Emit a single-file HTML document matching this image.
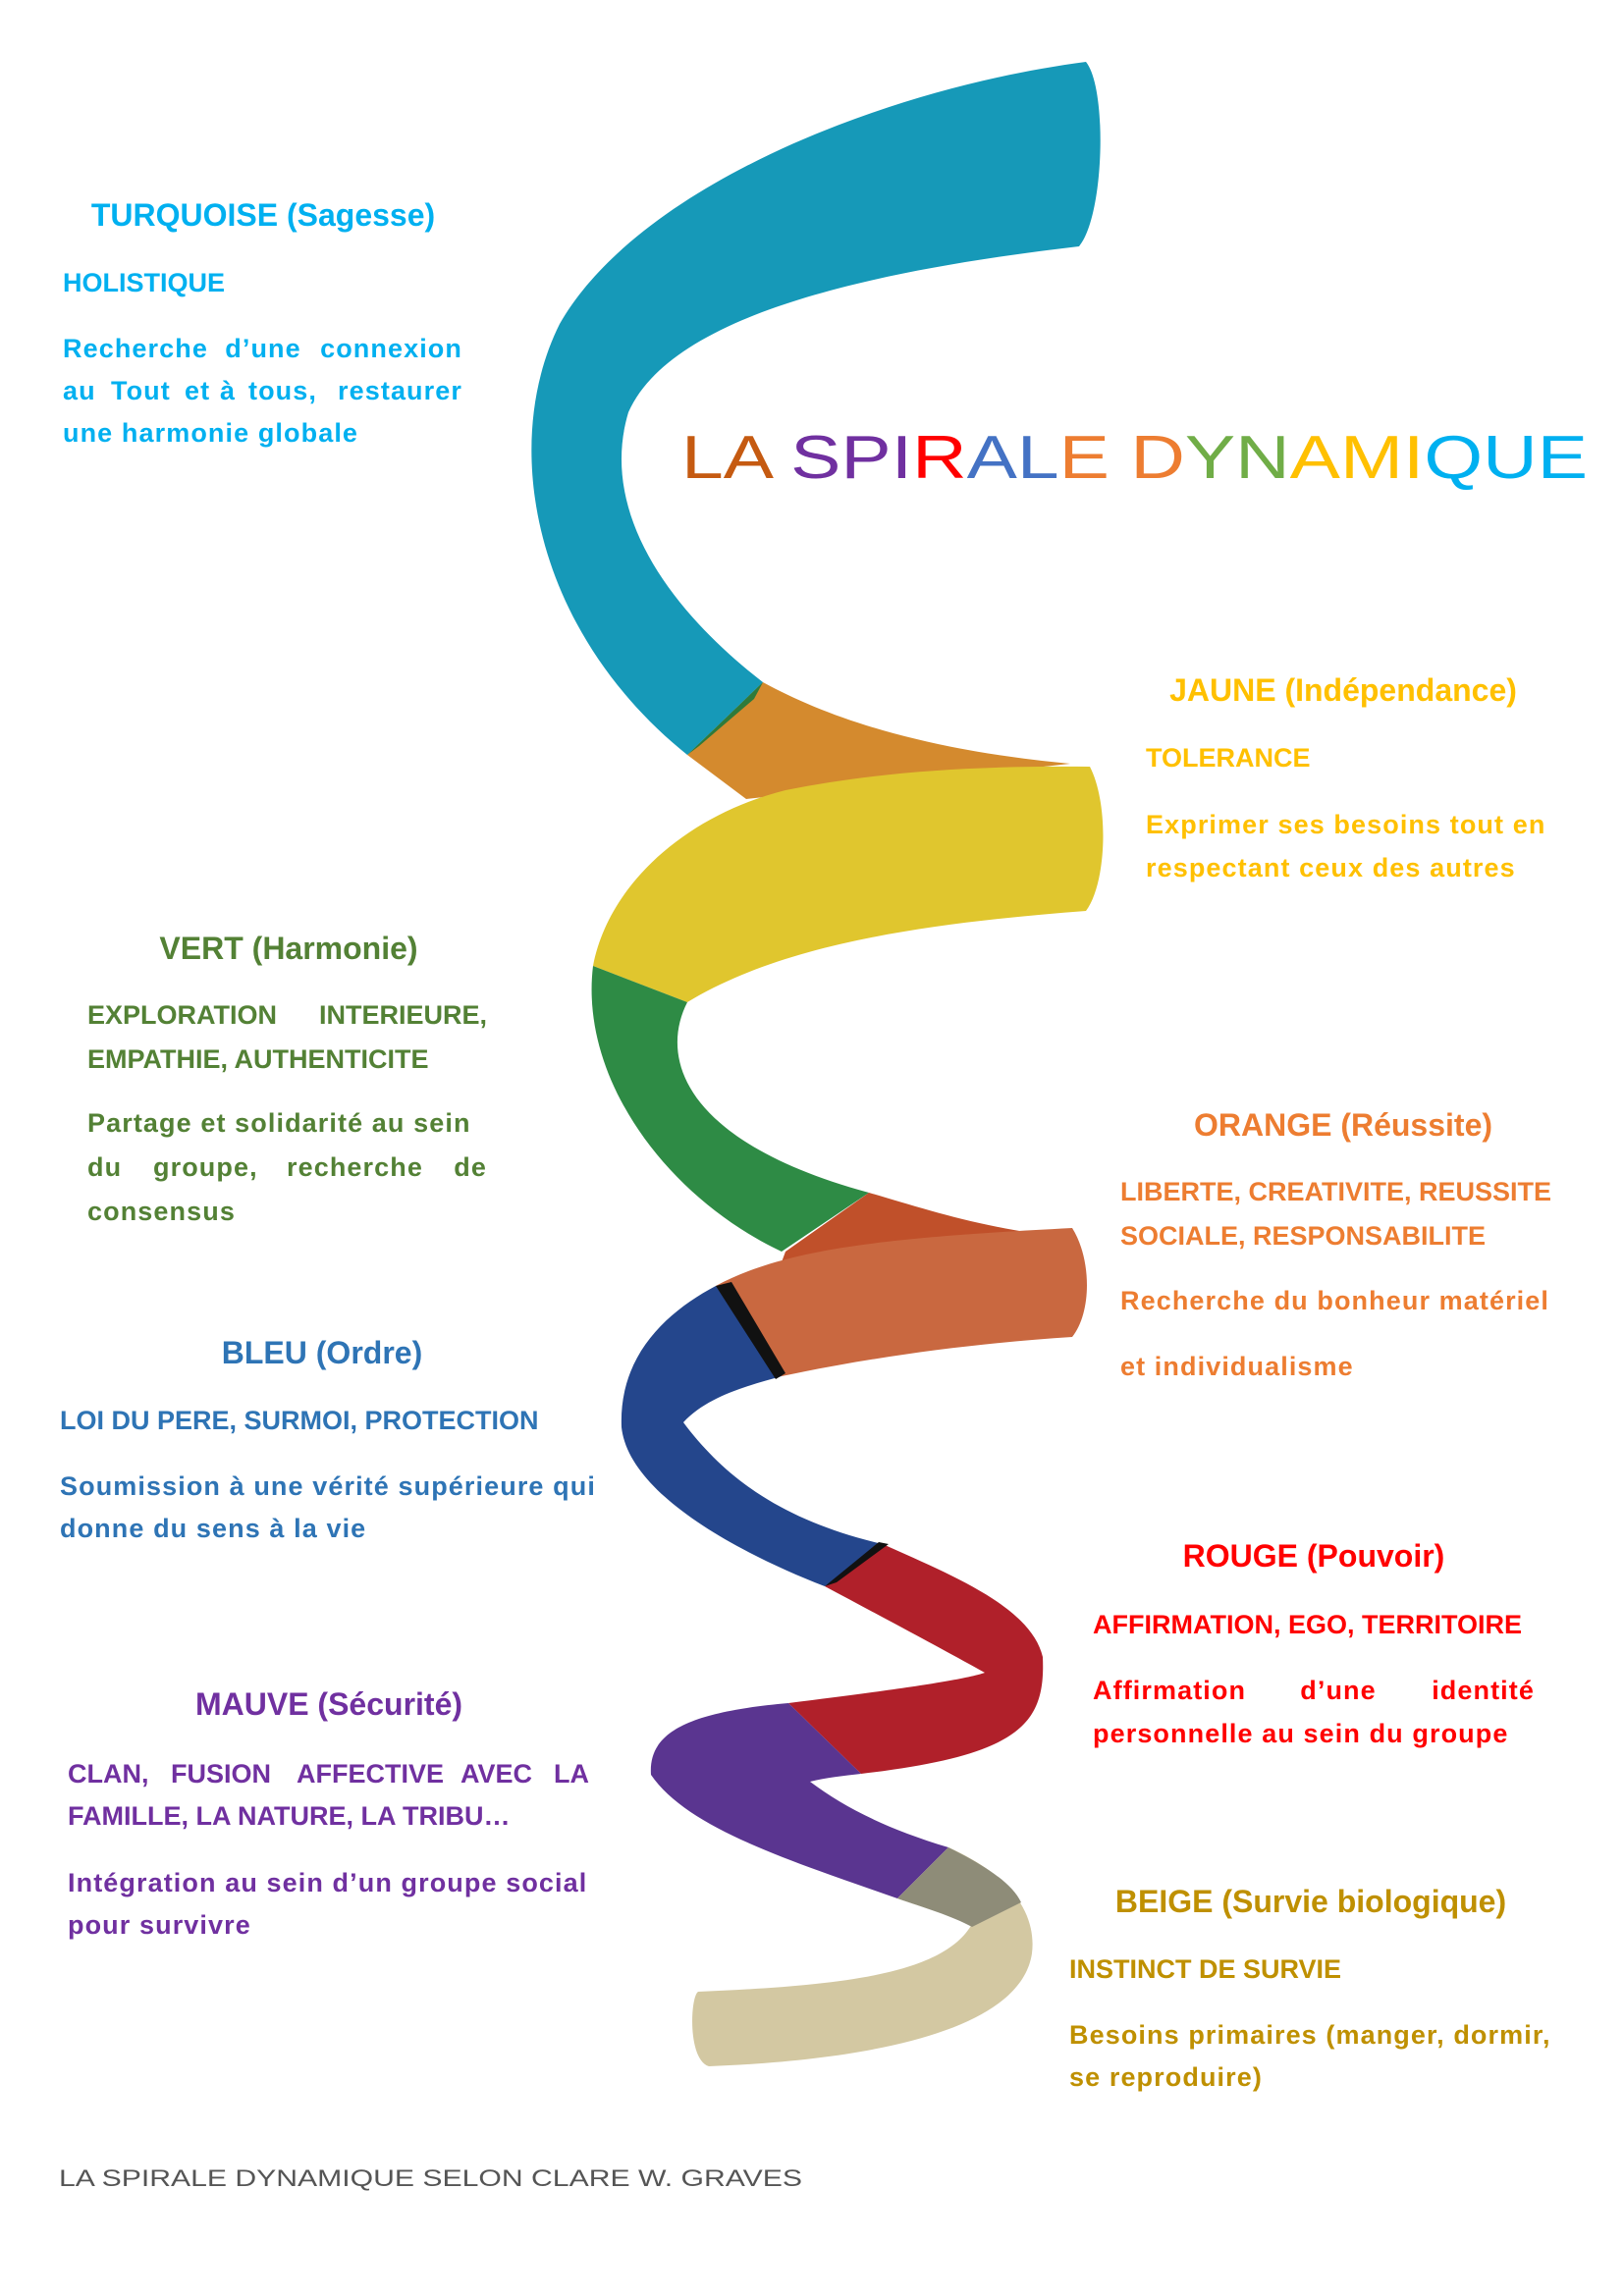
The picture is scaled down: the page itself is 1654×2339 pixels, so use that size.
<!DOCTYPE html>
<html><head><meta charset="utf-8"><style>
html,body{margin:0;padding:0;background:#fff}
svg{display:block}
text{font-family:"Liberation Sans",sans-serif;font-weight:bold}
.b text{font-size:27px;letter-spacing:1.1px}
.b text.u{letter-spacing:0}
.b text.t{font-size:32px;letter-spacing:0}
</style></head><body>
<svg width="1654" height="2339" viewBox="0 0 1654 2339" xmlns="http://www.w3.org/2000/svg">
<rect width="1654" height="2339" fill="#fff"/>
<!-- spiral -->
<path d="M700,769 L777,695 C850,735 950,765 1090,778 L760,814 Z" fill="#d48a2e"/>
<path d="M1106,63 C900,90 650,190 570,330 C510,450 540,640 700,769 L777,695 C680,620 610,520 640,420 C680,330 850,280 1099,251 C1125,220 1128,90 1106,63 Z" fill="#1699b8"/>
<path d="M700,769 L777,695 L768,712 L712,760 Z" fill="#2f7a3a"/>
<path d="M604,984 C620,900 700,830 800,805 C900,785 1000,780 1110,781 C1130,820 1127,900 1106,928 C950,940 800,960 700,1021 Z" fill="#e0c62e"/>
<path d="M604,984 L700,1021 C670,1080 700,1165 885,1215 L796,1275 C680,1220 590,1100 604,984 Z" fill="#2e8b45"/>
<path d="M800,1275 L885,1215 C930,1228 980,1245 1050,1256 L790,1302 Z" fill="#c0502a"/>
<path d="M729,1310 C800,1272 900,1261 1092,1251 C1112,1283 1112,1337 1092,1362 C1000,1368 900,1380 796,1402 Z" fill="#c96840"/>
<path d="M729,1310 L796,1402 C760,1412 720,1423 696,1449 C740,1508 800,1550 899,1573 L840,1616 C740,1577 640,1518 633,1454 C630,1380 680,1336 729,1310 Z" fill="#24468c"/>
<path d="M729,1310 L745,1306 L800,1399 L790,1405 Z" fill="#111"/>
<path d="M840,1616 L899,1573 C970,1605 1050,1637 1062,1688 C1065,1756 1040,1788 877,1807 L803,1735 C900,1723 980,1712 1003,1704 C960,1680 900,1648 840,1616 Z" fill="#b0202a"/>
<path d="M840,1616 L852,1612 L905,1573 L895,1571 Z" fill="#111"/>
<path d="M803,1735 L877,1807 C860,1809 840,1811 825,1815 C860,1841 900,1862 966,1882 L914,1934 C800,1894 700,1862 663,1808 C660,1765 700,1744 803,1735 Z" fill="#5a3590"/>
<path d="M966,1882 C1040,1915 1055,1958 1051,1990 C1040,2065 900,2098 722,2105 C700,2098 703,2034 711,2029 C850,2023 960,2013 990,1960 C970,1952 940,1943 914,1934 Z" fill="#d3c8a2"/>
<path d="M914,1934 L966,1882 C1000,1899 1030,1917 1040,1938 L990,1963 C970,1952 940,1943 914,1934 Z" fill="#8e8c78"/>
<!-- title -->
<text x="694" y="487" font-size="62" textLength="923" lengthAdjust="spacingAndGlyphs" style="font-weight:normal"><tspan fill="#c55a11">LA </tspan><tspan fill="#7030a0">SPI</tspan><tspan fill="#ff0000">R</tspan><tspan fill="#4472c4">AL</tspan><tspan fill="#ed7d31">E D</tspan><tspan fill="#70ad47">YN</tspan><tspan fill="#ffc000">AMI</tspan><tspan fill="#00b0f0">QUE</tspan></text>
<g class="b" fill="#00b0f0">
<text class="t" x="268" y="230" text-anchor="middle">TURQUOISE (Sagesse)</text>
<text class="u" x="64" y="297">HOLISTIQUE</text>
<text x="64" y="364">Recherche</text><text x="268" y="364" text-anchor="middle">d’une</text><text x="471" y="364" text-anchor="end">connexion</text>
<text x="64" y="407">au</text><text x="113" y="407">Tout</text><text x="188" y="407">et</text><text x="224" y="407">à</text><text x="253" y="407">tous,</text><text x="471" y="407" text-anchor="end">restaurer</text>
<text x="64" y="450">une harmonie globale</text>
</g>
<g class="b" fill="#ffc000">
<text class="t" x="1368" y="714" text-anchor="middle">JAUNE (Indépendance)</text>
<text class="u" x="1167" y="781">TOLERANCE</text>
<text x="1167" y="849">Exprimer ses besoins tout en</text>
<text x="1167" y="893">respectant ceux des autres</text>
</g>
<g class="b" fill="#538135">
<text class="t" x="294" y="977" text-anchor="middle">VERT (Harmonie)</text>
<text class="u" x="89" y="1043">EXPLORATION</text><text class="u" x="496" y="1043" text-anchor="end">INTERIEURE,</text>
<text class="u" x="89" y="1088">EMPATHIE, AUTHENTICITE</text>
<text x="89" y="1153">Partage et solidarité au sein</text>
<text x="89" y="1198">du</text><text x="156" y="1198">groupe,</text><text x="292" y="1198">recherche</text><text x="496" y="1198" text-anchor="end">de</text>
<text x="89" y="1243">consensus</text>
</g>
<g class="b" fill="#ed7d31">
<text class="t" x="1368" y="1157" text-anchor="middle">ORANGE (Réussite)</text>
<text class="u" x="1141" y="1223">LIBERTE, CREATIVITE, REUSSITE</text>
<text class="u" x="1141" y="1268">SOCIALE, RESPONSABILITE</text>
<text x="1141" y="1334">Recherche du bonheur matériel</text>
<text x="1141" y="1401">et individualisme</text>
</g>
<g class="b" fill="#2e74b5">
<text class="t" x="328" y="1389" text-anchor="middle">BLEU (Ordre)</text>
<text class="u" x="61" y="1456">LOI DU PERE, SURMOI, PROTECTION</text>
<text x="61" y="1523">Soumission à une vérité supérieure qui</text>
<text x="61" y="1566">donne du sens à la vie</text>
</g>
<g class="b" fill="#ff0000">
<text class="t" x="1338" y="1596" text-anchor="middle">ROUGE (Pouvoir)</text>
<text class="u" x="1113" y="1664">AFFIRMATION, EGO, TERRITOIRE</text>
<text x="1113" y="1731">Affirmation</text>
<text x="1363" y="1731" text-anchor="middle">d’une</text>
<text x="1563" y="1731" text-anchor="end">identité</text>
<text x="1113" y="1775">personnelle au sein du groupe</text>
</g>
<g class="b" fill="#7030a0">
<text class="t" x="335" y="1747" text-anchor="middle">MAUVE (Sécurité)</text>
<text class="u" x="69" y="1816">CLAN,</text><text class="u" x="174" y="1816">FUSION</text><text class="u" x="302" y="1816">AFFECTIVE</text><text class="u" x="469" y="1816">AVEC</text><text class="u" x="600" y="1816" text-anchor="end">LA</text>
<text class="u" x="69" y="1859">FAMILLE, LA NATURE, LA TRIBU…</text>
<text x="69" y="1927">Intégration au sein d’un groupe social</text>
<text x="69" y="1970">pour survivre</text>
</g>
<g class="b" fill="#bf9000">
<text class="t" x="1335" y="1948" text-anchor="middle">BEIGE (Survie biologique)</text>
<text class="u" x="1089" y="2015">INSTINCT DE SURVIE</text>
<text x="1089" y="2082">Besoins primaires (manger, dormir,</text>
<text x="1089" y="2125">se reproduire)</text>
</g>
<text x="60" y="2227" font-size="24" fill="#555" textLength="757" lengthAdjust="spacingAndGlyphs" style="font-weight:normal">LA SPIRALE DYNAMIQUE SELON CLARE W. GRAVES</text>
</svg>
</body></html>
